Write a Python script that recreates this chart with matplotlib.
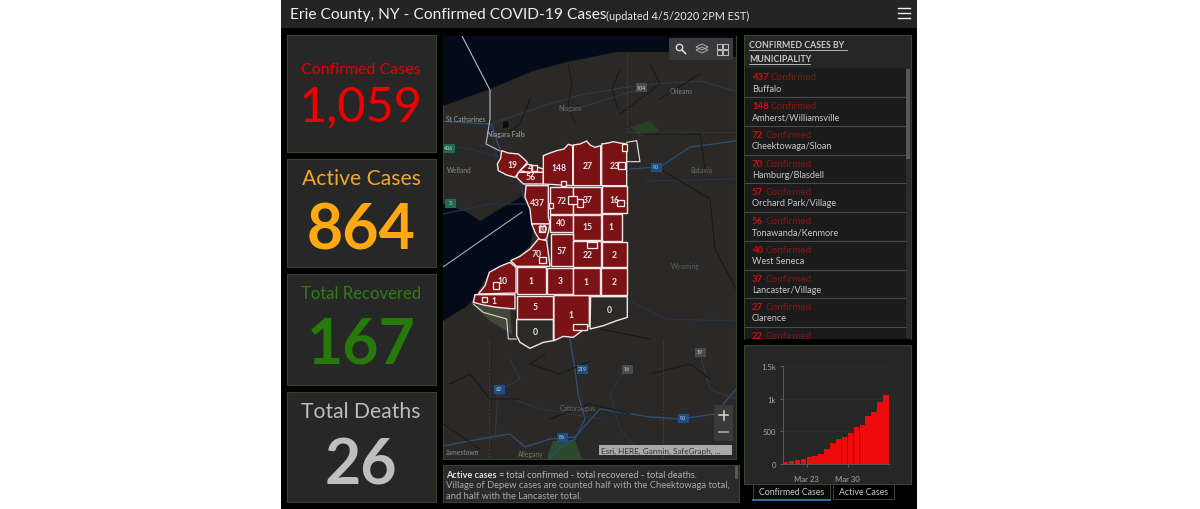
import matplotlib
matplotlib.use("Agg")
import matplotlib.pyplot as plt
from matplotlib.patches import Rectangle, Polygon, Circle
from matplotlib.ticker import FixedLocator
import pandas as pd

plt.rcParams['font.family'] = ['Lato', 'DejaVu Sans']

# ---------- data ----------
title_main = "Erie County, NY - Confirmed COVID-19 Cases"
title_note = "(updated 4/5/2020 2PM EST)"
card_labels = ["Confirmed Cases", "Active Cases", "Total Recovered", "Total Deaths"]
card_values = ["1,059", "864", "167", "26"]
muni_names = ["Buffalo", "Amherst/Williamsville", "Cheektowaga/Sloan", "Hamburg/Blasdell",
              "Orchard Park/Village", "Tonawanda/Kenmore", "West Seneca", "Lancaster/Village",
              "Clarence", ""]
muni_counts = [437, 148, 72, 70, 57, 56, 40, 37, 27, 22]
chart_start = "2020-03-19"
daily_confirmed = [36, 51, 66, 71, 107, 122, 148, 224, 316, 382, 413, 469, 561, 602, 735, 796, 949, 1059]
y_ticks = [0, 500, 1000, 1500]
y_tick_labels = ["0", "500", "1k", "1.5k"]
x_tick_dates = ["2020-03-23", "2020-03-30"]
x_tick_labels = ["Mar 23", "Mar 30"]
tab_labels = ["Confirmed Cases", "Active Cases"]
region_values = ["19", "4", "56", "148", "27", "23", "437", "72", "37", "16", "40", "15", "1", "10",
                 "57", "22", "2", "70", "10", "1", "1", "3", "1", "2", "5", "1", "0", "0"]
note_lines = ["total confirmed - total recovered - total deaths.",
              "Village of Depew cases are counted half with the Cheektowaga total,",
              "and half with the Lancaster total."]
place_names = ["St Catharines", "Niagara Falls", "Niagara", "Orleans", "Welland", "Batavia",
               "Wyoming", "Cattaraugus", "Allegany", "Jamestown"]
road_shields = ["104", "406", "3", "90", "219", "16", "19", "62", "86", "90"]

# ---------- layout ----------
W, H = 1200, 510
fig = plt.figure(figsize=(12, 5.1), dpi=100, facecolor="white")
ax = fig.add_axes([0, 0, 1, 1])
ax.set_xlim(0, W); ax.set_ylim(H, 0); ax.axis("off")

def rect(x0, y0, x1, y1, fc, ec="none", lw=0.8, z=1, **kw):
    r = Rectangle((x0, y0), x1 - x0, y1 - y0, fc=fc, ec=ec, lw=lw, zorder=z, **kw)
    ax.add_patch(r)
    return r

GREEN_EDGE = "#34452a"
PANEL = "#272727"
rect(281, 0, 917, 510, "#000000", z=0)
rect(281, 0, 917, 29, "#242424", z=1)
ax.text(290, 15, title_main, color="#efefef", fontsize=11.15, va="center", ha="left", zorder=5)
ax.text(606, 16, title_note, color="#e6e6e6", fontsize=7.8, va="center", ha="left", zorder=5)
for yy in (9, 14, 19):
    ax.plot([898, 910], [yy, yy], color="#f0f0f0", lw=1.0, zorder=5)

# stat cards
card_boxes = [(36, 153), (160, 268), (275, 386), (393, 503)]
label_y = [69.5, 179.5, 294.5, 412.5]
value_y = [107, 232, 346, 467]
label_colors = ["#e60000", "#f5a623", "#2f7d12", "#bdbdbd"]
value_colors = ["#f00000", "#ffa812", "#267a0c", "#bfbfbf"]
value_weights = ["normal", "bold", "bold", "bold"]
value_sizes = [35, 45, 45, 45]
label_sizes = [11.5, 15.2, 12, 15.2]
for (y0, y1), lab, val, ly, vy, lc, vc, vw, vs, ls in zip(card_boxes, card_labels, card_values, label_y,
                                                          value_y, label_colors, value_colors,
                                                          value_weights, value_sizes, label_sizes):
    rect(287, y0, 436, y1, PANEL, GREEN_EDGE, z=2)
    ax.text(361, ly, lab, color=lc, fontsize=ls, ha="center", va="center", zorder=5)
    ax.text(361, vy, val, color=vc, fontsize=vs, fontweight=vw, ha="center", va="center", zorder=5)

# ---------- map ----------
clip = rect(443, 37, 736, 460, "#2a2927", GREEN_EDGE, z=2)
def mapline(pts, color, lw=0.8, z=3, **kw):
    ln, = ax.plot([p[0] for p in pts], [p[1] for p in pts], color=color, lw=lw, zorder=z, **kw)
    ln.set_clip_path(clip)
def z2(pts):
    return [(440 + x / 3, 130 + y / 3) for x, y in pts]

ont = [(443, 37), (736, 37), (736, 58), (670, 53), (617, 53), (567, 63), (533, 72), (490, 90), (443, 107)]
erie = [(443, 205), (458, 210), (467, 213), (480, 222), (500, 210), (522, 197), (530, 210), (534, 230),
        (530, 247), (512, 262), (490, 273), (473, 300), (467, 307), (443, 322)]
for lake in (ont, erie):
    ax.add_patch(Polygon(lake, closed=True, fc="#040b18", ec="none", zorder=3))
ax.add_patch(Polygon([(503, 123), (508, 122), (509, 128), (503, 129)], fc="#040b18", zorder=3))

# greens
ax.add_patch(Polygon([(548, 455), (553, 442), (575, 441), (582, 460), (548, 460)], fc="#2c4a2c", zorder=3))
ax.add_patch(Polygon([(630, 128), (650, 122), (660, 132), (640, 137)], fc="#2b3f24", zorder=3))
ax.add_patch(Polygon([(473, 306), (510, 310), (512, 335), (490, 322)], fc="#45473a", zorder=3))

# borders / water / roads
mapline([(462, 37), (490, 91), (490, 120), (486, 145), (500, 152)], "#b9b9c8", 0.8, z=6)
mapline([(443, 268), (522, 213)], "#a8a8c0", 0.8, z=6)
blue = "#24384f"; bright = "#2a4f78"; dark = "#171715"; grey = "#36393f"
mapline([(443, 122), (470, 124), (492, 125), (497, 143), (505, 160)], bright, 1.0)
mapline([(490, 125), (540, 108), (580, 96), (640, 86), (700, 82), (735, 92)], grey, 0.8)
mapline([(575, 110), (640, 90)], grey, 0.8)
mapline([(492, 128), (495, 155), (515, 170), (524, 198)], blue, 0.8)
mapline([(443, 146), (470, 150), (505, 160)], blue, 0.8)
mapline([(443, 215), (490, 205), (526, 205)], blue, 0.8)
mapline([(630, 170), (660, 168), (690, 148), (736, 142)], bright, 0.9)
mapline([(645, 182), (736, 180)], blue, 0.7)
mapline([(627, 300), (665, 320), (736, 322)], blue, 0.7)
mapline([(570, 340), (575, 370), (578, 395), (585, 420), (575, 440), (560, 448), (547, 462)], bright, 0.9)
mapline([(443, 447), (480, 440), (510, 435), (525, 448), (550, 440), (575, 438), (600, 410), (650, 418), (680, 420), (715, 415), (736, 390)], bright, 1.0)
mapline([(510, 360), (520, 380), (498, 392), (495, 440)], grey, 0.7)
mapline([(498, 395), (540, 410), (600, 420)], grey, 0.6)
mapline([(625, 370), (610, 395), (620, 430), (640, 452)], blue, 0.7)
mapline([(700, 355), (710, 390), (735, 400)], grey, 0.7)
for pts in ([(530, 100), (520, 125), (505, 135)], [(568, 65), (572, 85), (568, 105), (575, 125)],
            [(620, 70), (612, 90), (618, 110)], [(650, 65), (660, 85), (620, 115)], [(700, 75), (660, 100)],
            [(640, 135), (700, 135), (705, 170)], [(660, 170), (710, 200), (715, 250), (736, 290)],
            [(545, 355), (530, 365), (560, 375), (590, 362)], [(450, 385), (470, 375), (490, 400), (520, 400)],
            [(550, 420), (590, 405), (630, 415)], [(650, 375), (690, 365), (710, 380)], [(600, 330), (650, 340)],
            [(443, 425), (480, 450)]):
    mapline(pts, dark, 0.7)
for pts in ([(627, 55), (627, 133), (736, 133)], [(489, 340), (489, 460)], [(663, 340), (663, 460)]):
    mapline(pts, "#454543", 0.6, ls=(0, (2, 2)))

# municipalities (outlines in reference-zoom coordinates)
region_shapes = [
    [(185, 65), (205, 72), (235, 75), (250, 88), (262, 100), (240, 125), (225, 145), (200, 138), (175, 125), (172, 105), (182, 88)],
    [(262, 105), (310, 120), (310, 130), (262, 130), (240, 125)],
    [(235, 130), (310, 130), (310, 165), (250, 165), (230, 145)],
    [(310, 80), (330, 72), (350, 65), (372, 60), (385, 46), (398, 50), (398, 170), (310, 165)],
    [(400, 48), (420, 45), (440, 36), (450, 48), (465, 55), (482, 50), (482, 170), (400, 170)],
    [(485, 45), (505, 42), (520, 38), (540, 42), (560, 45), (560, 170), (485, 170)],
    [(258, 170), (325, 170), (325, 265), (330, 285), (275, 285), (270, 240), (255, 205)],
    [(330, 175), (400, 175), (400, 255), (330, 255)],
    [(400, 175), (482, 175), (482, 255), (400, 255)],
    [(485, 172), (560, 172), (560, 252), (485, 252)],
    [(330, 258), (398, 258), (398, 310), (330, 310)],
    [(400, 258), (482, 258), (482, 332), (400, 332)],
    [(485, 255), (545, 255), (545, 335), (485, 335)],
    [(275, 285), (330, 285), (325, 310), (320, 330), (300, 335), (285, 310)],
    [(332, 315), (398, 315), (398, 412), (332, 412)],
    [(400, 335), (482, 335), (482, 415), (400, 415)],
    [(485, 338), (562, 338), (562, 415), (485, 415)],
    [(212, 395), (240, 382), (270, 360), (295, 330), (320, 335), (330, 412), (230, 412)],
    [(148, 430), (180, 412), (210, 400), (228, 415), (228, 492), (115, 495), (135, 470)],
    [(105, 497), (225, 497), (225, 540), (170, 535), (130, 528), (100, 520)],
    [(230, 415), (318, 415), (318, 495), (230, 495)],
    [(320, 417), (398, 417), (398, 495), (320, 495)],
    [(400, 418), (480, 418), (480, 497), (400, 497)],
    [(482, 418), (562, 418), (562, 497), (482, 497)],
    [(230, 500), (340, 500), (340, 570), (230, 570)],
    [(342, 500), (448, 500), (448, 590), (425, 606), (400, 625), (370, 622), (342, 635)],
    [(452, 503), (562, 503), (562, 565), (530, 575), (490, 590), (450, 600)],
    [(230, 572), (340, 572), (340, 635), (310, 640), (270, 658), (240, 640), (230, 620)],
]
region_labels_at = [(218, 108), (272, 116), (272, 143), (356, 117), (442, 109), (525, 110), (292, 222), (365, 214),
                    (442, 212), (522, 212), (364, 281), (442, 293), (514, 292), (306, 300), (365, 364), (442, 376),
                    (522, 375), (290, 373), (188, 456), (162, 514), (274, 456), (360, 456), (438, 458), (522, 458),
                    (285, 533), (394, 558), (507, 542), (286, 608)]
for shape, val, at in zip(region_shapes, region_values, region_labels_at):
    fc = "#2b2a28" if val == "0" else "#7b1216"
    ax.add_patch(Polygon(z2(shape), closed=True, fc=fc, ec="#f2e6e6", lw=1.0, zorder=7))
    px, py = z2([at])[0]
    ax.text(px, py, val, color="#e8e8e8", fontsize=6.2, fontweight="bold", ha="center", va="center", zorder=9)
for x0, y0, x1, y1 in [(276, 108, 292, 125), (362, 155, 378, 172), (410, 210, 428, 235), (385, 200, 410, 225),
                       (530, 212, 552, 232), (535, 100, 555, 120), (296, 290, 316, 308), (298, 385, 318, 403),
                       (160, 460, 176, 480), (125, 505, 140, 518), (442, 340, 472, 356), (400, 586, 440, 602),
                       (545, 45, 560, 65), (328, 222, 340, 238)]:
    a, b = z2([(x0, y0), (x1, y1)])
    ax.add_patch(Rectangle(a, b[0] - a[0], b[1] - a[1], fc="#7b1216", ec="#f5f0f0", lw=0.9, zorder=8))
mapline(z2([(560, 40), (590, 35), (600, 98), (562, 98)]), "#e8e8e8", 0.8, z=7)
mapline(z2([(100, 525), (130, 550), (200, 570), (205, 630), (230, 630)]), "#d8d8c8", 0.8, z=7)

# place names
place_at = [(446, 119), (487, 135), (558, 109), (670, 92), (447, 171), (690, 171), (671, 267), (560, 409), (518, 455), (446, 453)]
place_col = ["#a0a0a0", "#a8a8a8", "#6d6d75", "#7d7d85", "#8a8a8a", "#6d6d6d", "#5f5f5f", "#6d6d6d", "#7d7a55", "#8a8a9a"]
for name, (x, y), c in zip(place_names, place_at, place_col):
    ax.text(x, y, name, color=c, fontsize=4.9, ha="left", va="center", zorder=6)

# shields
shield_at = [(641, 88), (449, 149), (450, 204), (656, 168), (582, 370), (627, 370), (700, 353), (499, 390), (562, 438), (683, 419)]
shield_col = ["#4c4c4c", "#1d6b55", "#1d6b55", "#1f4e86", "#1f4e86", "#4c4c4c", "#4c4c4c", "#1f4e86", "#1f4e86", "#1f4e86"]
for lab, (x, y), c in zip(road_shields, shield_at, shield_col):
    rect(x - 5.5, y - 4.5, x + 5.5, y + 4.5, c, z=6)
    ax.text(x, y, lab, color="#d0d0d0", fontsize=3.8, ha="center", va="center", zorder=7)

# map widgets
rect(669, 39, 733, 61, "#3a3a3a", z=10)
ax.add_patch(Circle((679.5, 48.5), 3.2, fc="none", ec="#d8d8d8", lw=1, zorder=11))
ax.plot([682, 685.5], [51, 54.5], color="#d8d8d8", lw=1.2, zorder=11)
ax.add_patch(Polygon([(696, 48), (702, 45), (708, 48), (702, 51)], fc="none", ec="#b0b0b0", lw=0.7, zorder=11))
ax.add_patch(Polygon([(696, 51), (702, 54), (708, 51), (702, 48)], fc="none", ec="#b0b0b0", lw=0.7, zorder=11))
for xx, yy in [(717, 45), (723, 45), (717, 51), (723, 51)]:
    rect(xx, yy, xx + 4.5, yy + 4.5, "none", "#c0c0c0", 0.7, z=11)
rect(714, 406, 733, 442, "#3a3a3a", z=10)
ax.plot([719, 728], [416, 416], color="#d8d8d8", lw=1.1, zorder=11)
ax.plot([723.5, 723.5], [411.5, 420.5], color="#d8d8d8", lw=1.1, zorder=11)
ax.plot([719, 728], [433, 433], color="#b8b8b8", lw=1.1, zorder=11)
rect(599, 446, 732, 456, "#a9a9a9", z=10)
ax.text(601, 451.3, "Esri, HERE, Garmin, SafeGraph, ...", color="#333333", fontsize=5.9, ha="left", va="center", zorder=11)

# note panel
rect(443, 466, 739, 503, "#2a2a2a", GREEN_EDGE, z=2)
rect(735, 467, 738, 480, "#5a5a50", z=3)
ax.text(446, 475.5, "Active cases", color="#dddddd", fontsize=6.6, fontweight="bold", ha="left", va="center", zorder=5)
ax.text(498, 475.5, "=", color="#cfcfcf", fontsize=6.7, ha="left", va="center", zorder=5)
ax.text(506, 475.5, note_lines[0], color="#b5b5b5", fontsize=6.7, ha="left", va="center", zorder=5)
ax.text(446, 486, note_lines[1], color="#a8a8a8", fontsize=6.73, ha="left", va="center", zorder=5)
ax.text(446, 496.5, note_lines[2], color="#a8a8a8", fontsize=6.73, ha="left", va="center", zorder=5)

# municipality list
rect(744, 36, 911, 340, "#262626", GREEN_EDGE, z=2)
ax.text(749, 45.5, "CONFIRMED CASES BY", color="#c8c8c8", fontsize=6.3, fontweight="bold", ha="left", va="center", zorder=5)
ax.text(749, 59, "MUNICIPALITY", color="#c8c8c8", fontsize=6.3, fontweight="bold", ha="left", va="center", zorder=5)
ax.plot([749, 847], [51, 51], color="#c8c8c8", lw=0.6, zorder=5)
ax.plot([749, 810], [64.5, 64.5], color="#c8c8c8", lw=0.6, zorder=5)
rect(745, 69, 906, 339.5, "#1b1b1b", z=3)
rect(906, 69, 910, 339.5, "#2c2c2c", z=3)
rect(906, 70, 910, 160, "#555a55", z=4)
ROW = 28.75
for i, (n, name) in enumerate(zip(muni_counts, muni_names)):
    y = 78 + i * ROW
    ax.text(752, y, str(n), color="#c81010", fontsize=6.9, fontweight="bold", ha="left", va="center", zorder=5)
    ax.text(752 + 5.1 * len(str(n)) + 3, y, "Confirmed", color="#8c1414", fontsize=7.1, ha="left", va="center", zorder=5)
    if name:
        ax.text(752, y + 11, name, color="#c9c9c9", fontsize=6.6, ha="left", va="center", zorder=5)
        ax.plot([745, 906], [y + 20, y + 20], color="#4a4a4a", lw=0.8, zorder=5)
rect(745, 339.5, 911, 345, "#000000", z=6)

# chart panel + tabs
rect(744, 346, 911, 485, "#262626", GREEN_EDGE, z=2)
rect(753, 485, 830, 500, "#0a0a0a", GREEN_EDGE, z=2)
ax.plot([753, 830], [500.5, 500.5], color="#3b67b5", lw=1.4, zorder=3)
rect(833, 485, 894, 500, "#000000", GREEN_EDGE, z=2)
ax.text(791.5, 492.5, tab_labels[0], color="#c8c8c8", fontsize=6.3, ha="center", va="center", zorder=5)
ax.text(863.5, 492.5, tab_labels[1], color="#c8c8c8", fontsize=6.3, ha="center", va="center", zorder=5)

# bar chart
dates = pd.date_range(chart_start, periods=len(daily_confirmed), freq="D")
px0, px1, py_top, py_base = 783, 889, 367, 465
cax = fig.add_axes([px0 / W, 1 - py_base / H, (px1 - px0) / W, (py_base - py_top) / H], zorder=3)
cax.patch.set_alpha(0)
cax.bar(dates, daily_confirmed, width=0.92, align="edge", color="#ee0b0b", edgecolor="none")
cax.set_xlim(dates[0], dates[-1] + pd.Timedelta(days=1))
cax.set_ylim(0, 1500)
cax.yaxis.set_major_locator(FixedLocator(y_ticks))
cax.set_yticklabels(y_tick_labels)
cax.set_xticks(pd.to_datetime(x_tick_dates))
cax.set_xticklabels(x_tick_labels)
cax.tick_params(axis="both", colors="#6a6a6a", labelcolor="#a8a8a8", labelsize=5.6, length=2, width=0.6, pad=3)
cax.tick_params(axis="x", pad=6)
cax.grid(axis="y", color="#323232", lw=0.4); cax.set_axisbelow(True)
for s in ("top", "right"):
    cax.spines[s].set_visible(False)
for s in ("left", "bottom"):
    cax.spines[s].set_color("#5a5a5a"); cax.spines[s].set_linewidth(0.7)

fig.savefig("out.png", dpi=100, facecolor="white")
